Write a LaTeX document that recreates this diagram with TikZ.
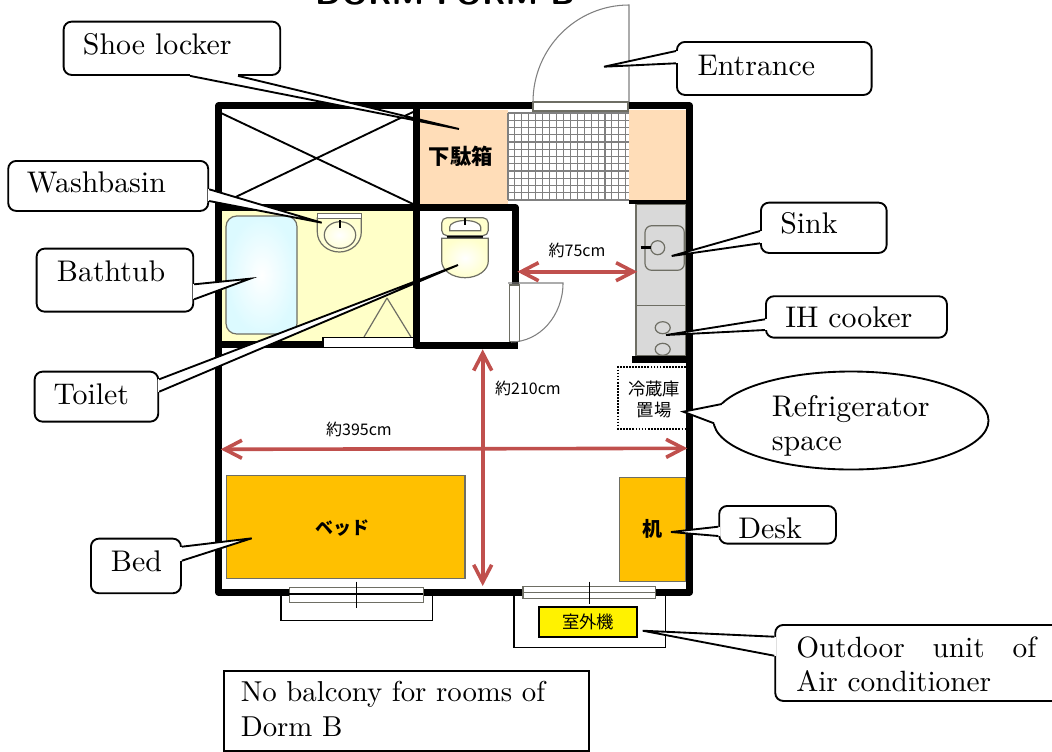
\documentclass[tikz,border=0pt]{standalone}
\usepackage{fontspec}
\usetikzlibrary{arrows.meta,shapes.geometric}
\newfontfamily\callfont{lmroman10-regular.otf}
\newfontfamily\jpfont{Noto Sans CJK JP}
\definecolor{peach}{RGB}{255,221,184}
\definecolor{bath}{RGB}{255,255,200}
\definecolor{tub}{RGB}{220,250,255}
\definecolor{ivory}{RGB}{255,255,205}
\definecolor{kitchen}{RGB}{217,217,217}
\definecolor{wood}{RGB}{255,192,0}
\definecolor{measure}{RGB}{192,80,77}
\definecolor{fixture}{RGB}{110,110,100}
\newcommand{\drawwall}{\draw[line width=5.25pt,line join=round]}
\newcommand{\drawthin}{\draw[fixture,line width=.9pt]}
\newcommand{\drawmeasure}{\draw[measure,line width=2.7pt,{Straight Barb[length=13pt,width=13.5pt]}-{Straight Barb[length=13pt,width=13.5pt]}]}
\newcommand{\drawtail}[4]{
    \draw[white,line width=2.4pt] ([shift={(#2)}]#1)--([shift={(#3)}]#1);
    \fill[white] ([shift={(#2)}]#1)--(#4)--([shift={(#3)}]#1)--cycle;
    \draw[line width=1.4pt] ([shift={(#2)}]#1)--(#4)--([shift={(#3)}]#1);
}
\tikzset{
    callbox/.style={draw,fill=white,line width=1.4pt,rounded corners=6pt,inner sep=0pt,anchor=north west},
    boxsize/.style 2 args={minimum width=#1*.75pt,minimum height=#2*.75pt},
    calltext/.style={anchor=base west,inner sep=0pt,font=\callfont\fontsize{22.4}{26}\selectfont},
    notetext/.style={anchor=base west,inner sep=0pt,font=\callfont\fontsize{21.6}{26}\selectfont},
    sizetext/.style={inner sep=0pt,font=\jpfont\fontsize{12}{14}\selectfont},
    roomtext/.style={inner sep=0pt,font=\jpfont\bfseries\fontsize{13.5}{18}\selectfont},
    plantext/.style={inner sep=0pt,align=center,font=\jpfont\fontsize{13}{16}\selectfont}
}
\begin{document}
\begin{tikzpicture}[x=.75pt,y=-.75pt]
\useasboundingbox (0,0) rectangle (1052,751);
\node[anchor=base,inner sep=0pt,font=\sffamily\bfseries\fontsize{25}{25}\selectfont] (title) at (445,4) {DORM FORM B};

\fill[bath] (221,210) rectangle (414,341);
\fill[peach] (420,110) rectangle (508,204);
\fill[peach] (629,110) rectangle (687,201);
\foreach \i in {0,...,17}{
    \draw[gray,line width=.8pt] (508+\i*6.93,113)--(508+\i*6.93,200);
}
\foreach \j in {0,...,12}{
    \draw[gray,line width=.8pt] (508,113+\j*7.25)--(629,113+\j*7.25);
}
\draw[line width=1.4pt] (221,113)--(413,204) (413,112)--(221,204);

\shade[inner color=white,outer color=tub,draw=fixture,line width=.9pt,rounded corners=8pt] (226,216) rectangle (297,334);
\drawthin (387,298)--(364,337) (387,298)--(411,337);

\shade[inner color=white,outer color=ivory,draw=fixture,line width=.9pt] (317.3,218)--(317.3,232) arc[start angle=180,end angle=0,x radius=22,y radius=20]--(361.3,218)--cycle;
\draw[fixture,fill=white,line width=.9pt] (317.3,213.3) rectangle (361.3,218.3);
\draw[fixture,line width=.9pt] (340,235) ellipse (15.7 and 13.3);
\draw[line width=1.9pt] (340,220)--(340,228.3);

\draw[fixture,fill=ivory,line width=.9pt,rounded corners=4pt] (441.7,217.7) rectangle (488.3,235.7);
\draw[fixture,fill=white,line width=.9pt] (449.7,230.7)--(449.7,227) arc[start angle=180,end angle=0,x radius=15.5,y radius=-6.5]--(480.7,230.7)--cycle;
\draw[line width=1.9pt] (465,218)--(465,225);
\draw[line width=1.5pt] (446.7,236.5)--(483.3,236.5);
\shade[inner color=white,outer color=ivory,draw=fixture,line width=.9pt] (441.7,238.3)--(441.7,261) arc[start angle=180,end angle=0,x radius=23.3,y radius=16.7]--(488.3,238.3)--cycle;

\draw[fixture,fill=kitchen,line width=.9pt] (636,204) rectangle (686,356);
\drawthin (636,305.7)--(686,305.7);
\draw[fixture,line width=.9pt,rounded corners=5pt] (645,225.7) rectangle (684.3,270.3);
\draw[fixture,line width=.9pt] (657.7,247.7) circle (7);
\draw[line width=1.9pt] (640.7,247.7)--(650.7,247.7);
\draw[fixture,line width=.9pt] (662.7,327.7) ellipse (7.5 and 6);
\draw[fixture,line width=.9pt] (662.7,349.3) ellipse (7.5 and 6);

\draw[black,densely dotted,line width=1.3pt] (686,366.7)--(618.3,366.7)--(618.3,429)--(686,429);
\node[plantext] (fridgemark) at (654,399.5) {冷蔵庫\\置場};

\draw[fixture,fill=wood,line width=1.1pt] (226.7,475.7) rectangle (465,578.3);
\draw[fixture,fill=wood,line width=.9pt] (619.3,477.3) rectangle (686,581.3);
\node[roomtext] (bedmark) at (342.7,528) {ベッド};
\node[roomtext,font=\jpfont\bfseries\fontsize{15}{18}\selectfont] (deskmark) at (652.7,529.3) {机};
\node[roomtext,font=\jpfont\bfseries\fontsize{16}{18}\selectfont] (lockermark) at (460.7,156) {下駄箱};

\draw[line width=1.1pt] (281,595)--(281,620.7)--(432.3,620.7)--(432.3,595);
\draw[line width=1.1pt] (514,595)--(514,647.7)--(665.3,647.7)--(665.3,595);
\node[draw,fill=yellow,line width=1.5pt,minimum width=98*.75pt,minimum height=30*.75pt,inner sep=0pt,font=\jpfont\fontsize{13}{16}\selectfont] (outdoormark) at (588.2,621.7) {室外機};

\drawwall (533,105.7)--(218.7,105.7)--(218.7,592.3)--(689.5,592.3)--(689.5,105.7)--(628,105.7);
\drawwall (416.7,105.7)--(416.7,345.8)--(517.7,345.8);
\drawwall (218.7,207.5)--(515.3,207.5)--(515.3,285);
\drawwall (218.7,344)--(323,344);
\draw[line width=3pt] (629,202)--(689,202);
\draw[line width=5.25pt] (632,359.5)--(689,359.5);

\draw[fixture,fill=white,line width=.9pt] (533,102) rectangle (628,111);
\draw[line width=1.1pt] (323,337.3) rectangle (413.7,347.7);
\fill[white] (323.5,337.8) rectangle (413.2,347.2);
\draw[fixture,fill=white,line width=.9pt] (509.3,285) rectangle (519.3,341.7);

\draw[gray,line width=.8pt] (629,102)--(629,5) arc[start angle=-90,end angle=-180,x radius=96,y radius=97];
\draw[gray,line width=.8pt] (508,283)--(563,283) arc[start angle=0,end angle=90,x radius=52,y radius=59];

\draw[fixture,fill=white,line width=.9pt] (289.3,587.3) rectangle (423.3,602.3);
\draw[line width=1.5pt] (289.3,594)--(423.3,594);
\draw[line width=.7pt] (356.7,581.7)--(356.7,608.3);
\draw[fixture,fill=white,line width=.9pt] (523,586.7) rectangle (655.3,598.3);
\drawthin (523,592.5)--(655.3,592.5);
\draw[line width=.7pt] (589.3,581.7)--(589.3,604.3);

\drawmeasure (220.7,449.3)--(687.3,448.3);
\drawmeasure (482.7,349.3)--(482.7,586);
\drawmeasure (517.3,271.7)--(637.3,271.7);
\node[sizetext] (depth) at (577,250.7) {約75cm};
\node[sizetext] (height) at (528,388) {約210cm};
\node[sizetext] (width) at (359,429) {約395cm};

\coordinate (shoetip) at (459,129);
\coordinate (washtip) at (321.7,222.7);
\coordinate (tubtip) at (250,278.7);
\coordinate (toilettip) at (458,265);
\coordinate (doortip) at (604,66.7);
\coordinate (sinktip) at (671.7,256);
\coordinate (cooktip) at (666,335);
\coordinate (fridgetip) at (683.3,411.7);
\coordinate (desktip) at (671,532);
\coordinate (bedtip) at (251.7,538.3);
\coordinate (unittip) at (642.7,630.7);

\node[callbox,boxsize={216.6}{53.3}] (shoe) at (62.7,20.7) {};
\drawtail{shoe.south west}{127.3,0}{175.3,0}{shoetip}
\node[calltext] (shoetext) at (82.7,54) {Shoe locker};

\node[callbox,boxsize={200}{50}] (wash) at (7.3,160) {};
\drawtail{wash.north east}{0,29.3}{0,41}{washtip}
\node[calltext] (washtext) at (26.7,192.7) {Washbasin};

\node[callbox,boxsize={156.6}{63}] (tub) at (35.7,247.7) {};
\drawtail{tub.north east}{0,36.6}{0,51.6}{tubtip}
\node[calltext] (tubtext) at (56.7,281.7) {Bathtub};

\node[callbox,boxsize={123.6}{50}] (toilet) at (33.7,370.7) {};
\drawtail{toilet.north east}{0,8.6}{0,21}{toilettip}
\node[calltext] (toilettext) at (53.3,404) {Toilet};

\node[callbox,boxsize={194.7}{53}] (door) at (676,41) {};
\drawtail{door.north west}{0,10}{0,22.3}{doortip}
\node[calltext] (doortext) at (697.3,75) {Entrance};

\node[callbox,boxsize={125.7}{50.3}] (sink) at (760,201.7) {};
\drawtail{sink.north west}{0,29.3}{0,41.6}{sinktip}
\node[calltext] (sinktext) at (780,233.3) {Sink};

\node[callbox,boxsize={181}{41.4}] (cook) at (765,295.3) {};
\drawtail{cook.north west}{0,24}{0,34.7}{cooktip}
\node[calltext] (cooktext) at (785,327.7) {IH cooker};

\node[draw,fill=white,ellipse,line width=1.4pt,inner sep=0pt,boxsize={275}{98}] (fridge) at (851,420.5) {};
\drawtail{fridge.center}{-129.3,-16.5}{-137,2.8}{fridgetip}
\node[calltext] (fridgetext) at (771.7,416.7) {Refrigerator};
\node[calltext] (fridgetextb) at (771.7,450) {space};

\node[callbox,boxsize={116.7}{37.7}] (desk) at (718.3,505) {};
\drawtail{desk.north west}{0,21.7}{0,31}{desktip}
\node[calltext] (desktext) at (738,538.3) {Desk};

\node[callbox,boxsize={90}{54.6}] (bed) at (90,537.7) {};
\drawtail{bed.north east}{0,9}{0,23}{bedtip}
\node[calltext] (bedtext) at (110.7,571) {Bed};

\node[callbox,boxsize={290}{76}] (unit) at (774.3,624) {};
\drawtail{unit.north west}{0,12.7}{0,31.7}{unittip}
\node[notetext,font=\callfont\fontsize{22}{26}\selectfont] (unittext) at (796,657.3) {\makebox[180pt][s]{Outdoor unit of}};
\node[notetext,font=\callfont\fontsize{22}{26}\selectfont] (unittextb) at (796,691.7) {Air conditioner};

\node[draw,fill=white,line width=1.4pt,anchor=north west,inner sep=0pt,boxsize={364.7}{80}] (note) at (223.3,670.3) {};
\node[notetext] (notefirst) at (240.5,701.7) {No balcony for rooms of};
\node[notetext] (notesecond) at (240.5,736) {Dorm B};
\end{tikzpicture}
\end{document}
